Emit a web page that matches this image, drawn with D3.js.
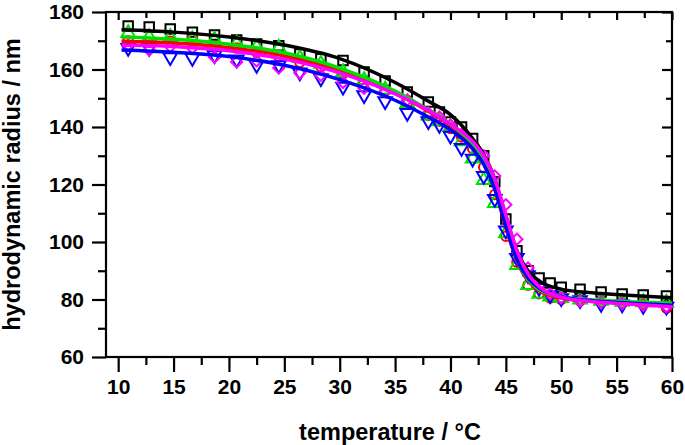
<!DOCTYPE html>
<html><head><meta charset="utf-8">
<script src="https://cdn.jsdelivr.net/npm/d3@7"></script>
<style>body{margin:0;background:#fff}svg{display:block}</style>
</head><body><svg id="c" width="685" height="445"></svg>
<script>
// measured temperatures (°C) of the data points
const temps = [10.9,12.8,14.7,16.7,18.7,20.7,22.5,24.5,26.4,28.3,30.3,32.2,34.1,36.1,38,39,40,41,42,43,44,45,46,47,48,49,50,51.7,53.6,55.5,57.4,59.5];
const blackPts   = [175.1,174.8,174.1,173.0,172.0,170.3,168.9,168.3,165.4,163.7,163.1,159.1,156.0,152.2,148.7,145.2,141.7,140.0,136.0,130.0,121.0,108.0,97.0,90.0,87.5,85.7,84.3,83.6,82.6,81.9,81.6,81.2];
const redPts     = [170.0,169.5,169.8,171.0,168.0,167.5,166.0,164.5,162.5,161.0,158.5,155.5,152.5,148.5,144.0,142.0,139.5,136.5,132.5,126.0,116.5,102.0,93.0,85.0,82.0,80.5,80.0,79.5,79.0,78.8,78.5,77.0];
const greenPts   = [172.7,171.3,171.3,170.5,170.3,169.0,167.8,167.5,164.0,162.0,159.1,156.3,153.0,148.3,144.0,142.0,140.0,135.0,129.0,121.5,113.5,103.0,92.0,85.0,82.0,81.0,80.5,80.0,79.5,79.2,79.0,78.8];
const bluePts    = [167.5,167.5,164.3,164.0,165.0,163.5,161.6,161.5,159.0,157.0,154.0,151.1,149.0,144.9,142.0,140.7,137.0,132.7,129.0,123.0,115.0,104.0,94.5,88.5,84.0,81.5,80.5,79.8,78.5,78.3,77.8,77.5];
const magentaPts = [168.5,166.8,168.0,167.5,164.3,162.6,163.0,160.5,158.8,158.0,155.5,153.5,152.2,149.4,144.9,143.5,140.7,137.5,134.0,130.0,123.0,113.0,101.0,91.0,85.0,82.0,80.5,79.5,79.0,78.5,78.0,77.5];

// fitted curves
const fitT       = [10.3,15,20,25,30,35,38,40,42,43,44,45,46,47,48,50,53,56,60];
const blackFit   = [173.8,173.0,171.3,168.5,163.8,155.5,149.0,144.3,136.0,130.5,122.0,108.5,97.0,90.0,86.5,83.6,82.3,81.5,80.6];
const redFit     = [169.8,169.2,167.6,164.7,159.5,151.8,145.5,140.5,133.5,127.5,118.5,105.0,93.5,86.5,83.0,80.5,79.3,78.8,78.3];
const greenFit   = [171.3,170.5,168.8,165.8,160.5,152.5,146.0,141.0,134.0,128.0,119.0,106.0,94.0,87.0,83.5,81.0,79.8,79.2,78.7];
const blueFit    = [166.8,166.0,164.5,161.5,156.5,149.3,143.5,139.0,132.5,127.0,118.5,105.5,94.0,87.5,84.0,81.0,79.5,78.8,78.0];
const magentaFit = [168.5,168.0,166.5,163.6,158.8,151.5,145.8,141.0,135.0,130.0,122.0,109.5,97.0,89.0,84.5,80.8,79.2,78.4,77.5];

const xTicks = [10,15,20,25,30,35,40,45,50,55,60];
const xMinor = [12.5,17.5,22.5,27.5,32.5,37.5,42.5,47.5,52.5,57.5];
const yTicks = [60,80,100,120,140,160,180];
const yMinor = [70,90,110,130,150,170];

const series = [
  {pts: blackPts,   fit: blackFit,   color: "#000000", shape: "square"},
  {pts: redPts,     fit: redFit,     color: "#ff0000", shape: "circle"},
  {pts: greenPts,   fit: greenFit,   color: "#00e000", shape: "up"},
  {pts: bluePts,    fit: blueFit,    color: "#0000ff", shape: "down"},
  {pts: magentaPts, fit: magentaFit, color: "#ff00ff", shape: "diamond"}
];

const svg = d3.select("#c");
const L = 106, R = 672, T = 12, B = 357;
const x = d3.scaleLinear().domain([8.9, 60]).range([L, R]);
const y = d3.scaleLinear().domain([60, 180]).range([B, T]);

const font = "'Liberation Sans', Arial, sans-serif";

function styleAxis(g) {
  g.selectAll("path").remove();
  g.selectAll("line").attr("stroke", "#000").attr("stroke-width", 2.2);
  g.selectAll("text").attr("font-family", font).attr("font-weight", "bold")
    .attr("font-size", 21).attr("fill", "#000");
}
// bottom
svg.append("g").attr("transform", `translate(0,${B})`)
  .call(d3.axisBottom(x).tickValues(xTicks).tickSize(15).tickPadding(7).tickFormat(d3.format("d"))).call(styleAxis);
svg.append("g").attr("transform", `translate(0,${B})`)
  .call(d3.axisBottom(x).tickValues(xMinor).tickSize(8).tickFormat("")).call(styleAxis);
// top inward
svg.append("g").attr("transform", `translate(0,${T})`)
  .call(d3.axisBottom(x).tickValues(xTicks).tickSize(8).tickFormat("")).call(styleAxis);
svg.append("g").attr("transform", `translate(0,${T})`)
  .call(d3.axisBottom(x).tickValues(xMinor).tickSize(6).tickFormat("")).call(styleAxis);
// left
svg.append("g").attr("transform", `translate(${L},0)`)
  .call(d3.axisLeft(y).tickValues(yTicks).tickSize(14).tickPadding(8).tickFormat(d3.format("d"))).call(styleAxis);
svg.append("g").attr("transform", `translate(${L},0)`)
  .call(d3.axisLeft(y).tickValues(yMinor).tickSize(8).tickFormat("")).call(styleAxis);
// right inward
svg.append("g").attr("transform", `translate(${R},0)`)
  .call(d3.axisLeft(y).tickValues(yTicks).tickSize(10).tickFormat("")).call(styleAxis);
svg.append("g").attr("transform", `translate(${R},0)`)
  .call(d3.axisLeft(y).tickValues(yMinor).tickSize(6).tickFormat("")).call(styleAxis);

// frame
svg.append("rect").attr("x", L).attr("y", T).attr("width", R - L).attr("height", B - T)
  .attr("fill", "none").attr("stroke", "#000").attr("stroke-width", 2.2);

// markers
function symbolPath(shape) {
  switch (shape) {
    case "square": return d3.symbol().type(d3.symbolSquare).size(90)();
    case "circle": return d3.symbol().type(d3.symbolCircle).size(70)();
    case "up": return d3.symbol().type(d3.symbolTriangle).size(80)();
    case "down": return d3.symbol().type(d3.symbolTriangle).size(80)();
    case "diamond": return d3.symbol().type(d3.symbolSquare).size(62)();
  }
}
function rot(shape) { return shape === "down" ? 180 : shape === "diamond" ? 45 : 0; }

series.forEach(s => {
  const p = symbolPath(s.shape);
  svg.append("g").selectAll("path").data(s.pts).join("path")
    .attr("d", p)
    .attr("transform", (d, i) => `translate(${x(temps[i])},${y(d)}) rotate(${rot(s.shape)})`)
    .attr("fill", "none").attr("stroke", s.color).attr("stroke-width", 2);
});

// fit lines
const line = d3.line().x((d, i) => x(fitT[i])).y(d => y(d)).curve(d3.curveMonotoneX);
series.forEach(s => {
  svg.append("path").datum(s.fit).attr("d", line)
    .attr("fill", "none").attr("stroke", s.color).attr("stroke-width", 3.5);
});

// axis titles
svg.append("text").attr("x", 390).attr("y", 440).attr("text-anchor", "middle")
  .attr("font-family", font).attr("font-weight", "bold").attr("font-size", 23.5).text("temperature / °C");
svg.append("text").attr("transform", `translate(20,${(T + B) / 2}) rotate(-90)`)
  .attr("text-anchor", "middle").attr("font-family", font).attr("font-weight", "bold").attr("font-size", 23.5)
  .text("hydrodynamic radius / nm");
</script></body></html>
